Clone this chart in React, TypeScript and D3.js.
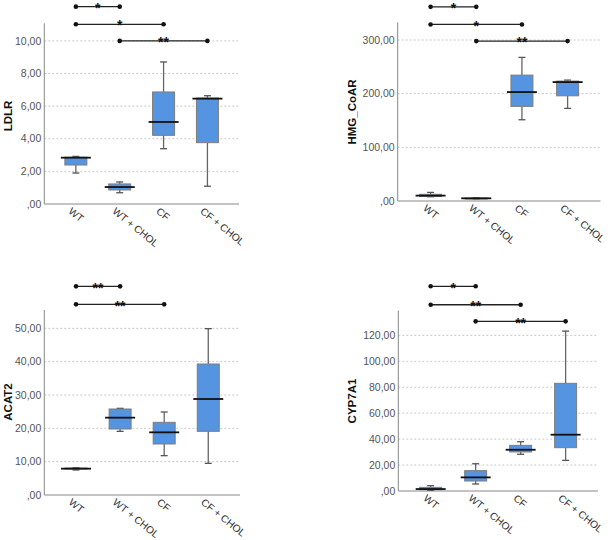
import React from 'react';
import * as d3 from 'd3';

const groups = ['WT', 'WT + CHOL', 'CF', 'CF + CHOL'];

// box stats per group: [min, q1, median, q3, max]
const ldlr = [
  [1.9, 2.39, 2.84, 2.87, 2.92],
  [0.69, 0.86, 1.04, 1.23, 1.35],
  [3.39, 4.21, 5.03, 6.87, 8.71],
  [1.09, 3.76, 6.46, 6.5, 6.64],
];
const hmgCoar = [
  [8, 8.5, 10, 12.5, 16],
  [4, 4.5, 5, 5.5, 6],
  [151.4, 176.3, 203, 234.6, 267.6],
  [172.6, 196, 221.6, 223.5, 225.3],
];
const acat2 = [
  [7.5, 7.8, 7.9, 8.1, 8.2],
  [19.1, 19.8, 23.2, 25.8, 26.0],
  [11.8, 15.3, 18.8, 21.8, 24.9],
  [9.5, 19.1, 28.8, 39.3, 49.9],
];
const cyp7a1 = [
  [0.5, 1.0, 1.5, 2.8, 4.1],
  [5.4, 7.7, 10.5, 15.7, 21.0],
  [28.3, 30.1, 31.8, 35.2, 38.0],
  [23.6, 33.4, 43.4, 83.0, 123.3],
];

const ldlrTicks = [0, 2, 4, 6, 8, 10];
const hmgTicks = [0, 100, 200, 300];
const acatTicks = [0, 10, 20, 30, 40, 50];
const cypTicks = [0, 20, 40, 60, 80, 100, 120];

// significance brackets: [fromGroup, toGroup, height (data units), stars]
const ldlrSig: [number, number, number, string][] = [[0, 1, 12.1, '*'], [0, 2, 11.02, '*'], [1, 3, 10, '**']];
const hmgSig: [number, number, number, string][] = [[0, 1, 361.8, '*'], [0, 2, 329, '*'], [1, 3, 298, '**']];
const acatSig: [number, number, number, string][] = [[0, 1, 62.6, '**'], [0, 2, 57.2, '**']];
const cypSig: [number, number, number, string][] = [[0, 1, 157.8, '*'], [0, 2, 143.6, '**'], [1, 3, 130.8, '**']];

const panels = [
  { title: 'LDLR', stats: ldlr, ticks: ldlrTicks, sig: ldlrSig, max: 11.08, x0: 44.3, x1: 239, top: 23.3, bot: 204, tx: 12, ty: 116 },
  { title: 'HMG_CoAR', stats: hmgCoar, ticks: hmgTicks, sig: hmgSig, max: 333, x0: 397.7, x1: 600.5, top: 22.3, bot: 201, tx: 356, ty: 112 },
  { title: 'ACAT2', stats: acat2, ticks: acatTicks, sig: acatSig, max: 55.5, x0: 44.3, x1: 240, top: 310, bot: 495, tx: 12, ty: 402 },
  { title: 'CYP7A1', stats: cyp7a1, ticks: cypTicks, sig: cypSig, max: 139, x0: 398.3, x1: 598, top: 310.7, bot: 491, tx: 356, ty: 401 },
];

const font = 'Arial, "Liberation Sans", sans-serif';

const fmt = (v: number) => {
  const s = d3.format('.2f')(v).replace('.', ',');
  return s.startsWith('0,') ? s.slice(1) : s;
};

const Panel = ({ p }: { p: any }) => {
  const x = d3.scalePoint<string>().domain(groups).range([p.x0, p.x1]).padding(0.72);
  const y = d3.scaleLinear().domain([0, p.max]).range([p.bot, p.top]);
  const bw = 22;
  return (
    <g>
      {p.ticks.filter((t: number) => t > 0).map((t: number) => (
        <line key={'g' + t} x1={p.x0} x2={p.x1} y1={y(t)} y2={y(t)} stroke="#c8c8c8" strokeDasharray="2,2" />
      ))}
      {p.ticks.map((t: number) => (
        <text key={'t' + t} x={p.x0 - 3} y={y(t)} dy="0.35em" textAnchor="end" fontSize={10.5} fill="#555" fontFamily={font}>
          {fmt(t)}
        </text>
      ))}
      <line x1={p.x0} x2={p.x0} y1={p.top} y2={p.bot} stroke="#888" />
      <line x1={p.x0} x2={p.x1} y1={p.bot} y2={p.bot} stroke="#888" />
      <text transform={`translate(${p.tx},${p.ty}) rotate(-90)`} textAnchor="middle" fontSize={11.5} fontWeight="bold" fontFamily={font} fill="#111">
        {p.title}
      </text>
      {groups.map((g, i) => {
        const [mn, q1, md, q3, mx] = p.stats[i];
        const cx = x(g)!;
        return (
          <g key={g}>
            <line x1={cx} x2={cx} y1={y(mx)} y2={y(q3)} stroke="#666" strokeWidth={1.3} />
            <line x1={cx} x2={cx} y1={y(q1)} y2={y(mn)} stroke="#666" strokeWidth={1.3} />
            <line x1={cx - 3.5} x2={cx + 3.5} y1={y(mx)} y2={y(mx)} stroke="#555" strokeWidth={1.3} />
            <line x1={cx - 3.5} x2={cx + 3.5} y1={y(mn)} y2={y(mn)} stroke="#555" strokeWidth={1.3} />
            <rect x={cx - bw / 2} y={y(q3)} width={bw} height={Math.max(1, y(q1) - y(q3))} fill="#5594e0" stroke="#7d7d7d" strokeWidth={1} />
            <line x1={cx - bw / 2 - 4} x2={cx + bw / 2 + 4} y1={y(md)} y2={y(md)} stroke="#111" strokeWidth={1.8} />
            <text transform={`translate(${cx - 8},${p.bot + 8.5}) rotate(39)`} fontSize={10.2} fill="#333" fontFamily={font}>
              {g}
            </text>
          </g>
        );
      })}
      {p.sig.map(([a, b, h, s]: [number, number, number, string], k: number) => {
        const xa = x(groups[a])!;
        const xb = x(groups[b])!;
        const yy = y(h);
        return (
          <g key={'s' + k}>
            <line x1={xa} x2={xb} y1={yy} y2={yy} stroke="#222" strokeWidth={1.3} />
            <circle cx={xa} cy={yy} r={2.3} fill="#111" />
            <circle cx={xb} cy={yy} r={2.3} fill="#111" />
            <text x={(xa + xb) / 2} y={yy + 6.2} textAnchor="middle" fontSize={14} fontWeight="bold" fill="#111" fontFamily={font}>
              {s}
            </text>
          </g>
        );
      })}
    </g>
  );
};

export default function App() {
  return (
    <svg width={615} height={540} style={{ position: 'absolute', left: 0, top: 0, background: '#fff' }}>
      {panels.map((p) => (
        <Panel key={p.title} p={p} />
      ))}
    </svg>
  );
}
